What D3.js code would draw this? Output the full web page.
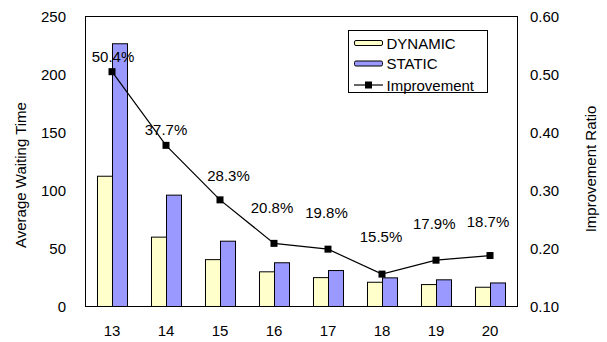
<!DOCTYPE html>
<html>
<head>
<meta charset="utf-8">
<script src="https://cdn.jsdelivr.net/npm/d3@7"></script>
<style>
  html, body { margin: 0; padding: 0; background: #fff; }
  svg { display: block; }
  text { font-family: "Liberation Sans", Arial, sans-serif; fill: #000; }
</style>
</head>
<body>
<svg id="chart" width="607" height="342"></svg>
<script>
// Task-count categories along the x axis
const categories = ["13", "14", "15", "16", "17", "18", "19", "20"];
// Average waiting time per scheduling policy
const dynamicValues = [112.3, 59.8, 40.4, 29.9, 24.9, 20.9, 18.9, 16.6];
const staticValues  = [226.5, 96.0, 56.3, 37.7, 31.0, 24.7, 23.0, 20.3];
// Improvement ratio of DYNAMIC over STATIC
const improvement   = [0.504, 0.377, 0.283, 0.208, 0.198, 0.155, 0.179, 0.187];
// Axis tick values
const leftTicks  = [0, 50, 100, 150, 200, 250];
const rightTicks = [0.10, 0.20, 0.30, 0.40, 0.50, 0.60];
const seriesNames = ["DYNAMIC", "STATIC", "Improvement"];

// Layout
const plot = { left: 85, right: 517, top: 16, bottom: 306 };
const colors = { DYNAMIC: "#FFFFCC", STATIC: "#9999FF" };
const FONT = 15;
// per-point offsets of the percentage labels from their markers
const labelNudge = [[1, -15], [0, -16], [8.5, -24], [-2, -36], [-1.5, -37], [-1, -37.5], [-1.7, -36.5], [-2, -34]];

const svg = d3.select("#chart");

const x = d3.scaleBand()
  .domain(categories)
  .range([plot.left, plot.right])
  .paddingInner(0.444)
  .paddingOuter(0.222);

const xSeries = d3.scaleBand()
  .domain(["DYNAMIC", "STATIC"])
  .range([0, x.bandwidth()]);

const yLeft = d3.scaleLinear().domain([0, 250]).range([plot.bottom, plot.top]);
const yRight = d3.scaleLinear().domain([0.10, 0.60]).range([plot.bottom, plot.top]);

// Plot frame
svg.append("rect")
  .attr("x", plot.left + 0.5)
  .attr("y", plot.top + 0.5)
  .attr("width", plot.right - plot.left)
  .attr("height", plot.bottom - plot.top)
  .attr("fill", "none")
  .attr("stroke", "#000")
  .attr("stroke-width", 1);

// Bars
const rows = categories.map((c, i) => ({ c, DYNAMIC: dynamicValues[i], STATIC: staticValues[i] }));
const groups = svg.append("g").selectAll("g")
  .data(rows)
  .join("g")
  .attr("transform", d => `translate(${x(d.c)},0)`);

groups.selectAll("rect")
  .data(d => ["DYNAMIC", "STATIC"].map(k => ({ k, v: d[k] })))
  .join("rect")
  .attr("x", d => xSeries(d.k) + 0.5)
  .attr("y", d => yLeft(d.v) + 0.5)
  .attr("width", xSeries.bandwidth())
  .attr("height", d => yLeft(0) - yLeft(d.v))
  .attr("fill", d => colors[d.k])
  .attr("stroke", "#000")
  .attr("stroke-width", 1);

// Improvement line and markers
const cx = c => x(c) + x.bandwidth() / 2;
const line = d3.line()
  .x((d, i) => cx(categories[i]))
  .y(d => yRight(d));

svg.append("path")
  .datum(improvement)
  .attr("d", line)
  .attr("fill", "none")
  .attr("stroke", "#000")
  .attr("stroke-width", 1.2);

svg.append("g").selectAll("rect")
  .data(improvement)
  .join("rect")
  .attr("x", (d, i) => cx(categories[i]) - 3.5)
  .attr("y", d => yRight(d) - 3.5)
  .attr("width", 7)
  .attr("height", 7)
  .attr("fill", "#000");

// Percentage labels
svg.append("g").selectAll("text")
  .data(improvement)
  .join("text")
  .attr("x", (d, i) => cx(categories[i]) + labelNudge[i][0])
  .attr("y", (d, i) => yRight(d) + labelNudge[i][1] + 5.5)
  .attr("text-anchor", "middle")
  .attr("font-size", FONT)
  .text(d => (d * 100).toFixed(1) + "%");

// Left axis
const axisLeft = d3.axisLeft(yLeft).tickValues(leftTicks).tickSize(0).tickPadding(19);
svg.append("g")
  .attr("transform", `translate(${plot.left},0)`)
  .call(axisLeft)
  .call(g => g.select(".domain").remove())
  .call(g => g.selectAll("text").attr("font-size", FONT).attr("font-family", null).attr("dy", "0.36em"));

// Right axis
const axisRight = d3.axisRight(yRight).tickValues(rightTicks).tickSize(0).tickPadding(13)
  .tickFormat(d3.format(".2f"));
svg.append("g")
  .attr("transform", `translate(${plot.right},0)`)
  .call(axisRight)
  .call(g => g.select(".domain").remove())
  .call(g => g.selectAll("text").attr("font-size", FONT).attr("font-family", null).attr("dy", "0.36em"));

// Bottom axis
const axisBottom = d3.axisBottom(x).tickSize(0).tickPadding(19);
svg.append("g")
  .attr("transform", `translate(0,${plot.bottom})`)
  .call(axisBottom)
  .call(g => g.select(".domain").remove())
  .call(g => g.selectAll("text").attr("font-size", FONT).attr("font-family", null));

// Axis titles
svg.append("text")
  .attr("transform", `translate(26,${(plot.top + plot.bottom) / 2 + 14}) rotate(-90)`)
  .attr("text-anchor", "middle")
  .attr("font-size", FONT)
  .text("Average Waiting Time");

svg.append("text")
  .attr("transform", `translate(596,${(plot.top + plot.bottom) / 2 + 8}) rotate(-90)`)
  .attr("text-anchor", "middle")
  .attr("font-size", FONT)
  .text("Improvement Ratio");

// Legend
const legend = svg.append("g").attr("transform", "translate(348,30)");
legend.append("rect")
  .attr("x", 0.5).attr("y", 0.5)
  .attr("width", 139).attr("height", 62)
  .attr("fill", "#fff")
  .attr("stroke", "#000")
  .attr("stroke-width", 1);

const rowY = [13, 33.5, 55];
seriesNames.forEach((name, i) => {
  const g = legend.append("g").attr("transform", `translate(0,${rowY[i]})`);
  if (colors[name]) {
    g.append("rect")
      .attr("x", 6.5).attr("y", -2.5)
      .attr("width", 28).attr("height", 5)
      .attr("rx", 1.5)
      .attr("fill", colors[name])
      .attr("stroke", "#000")
      .attr("stroke-width", 1);
  } else {
    g.append("line")
      .attr("x1", 6).attr("x2", 35)
      .attr("y1", 0).attr("y2", 0)
      .attr("stroke", "#000").attr("stroke-width", 1.2);
    g.append("rect")
      .attr("x", 17).attr("y", -3.5)
      .attr("width", 7).attr("height", 7)
      .attr("fill", "#000");
  }
  g.append("text")
    .attr("x", 38.5)
    .attr("y", 5.5)
    .attr("font-size", FONT)
    .text(name);
});
</script>
</body>
</html>
